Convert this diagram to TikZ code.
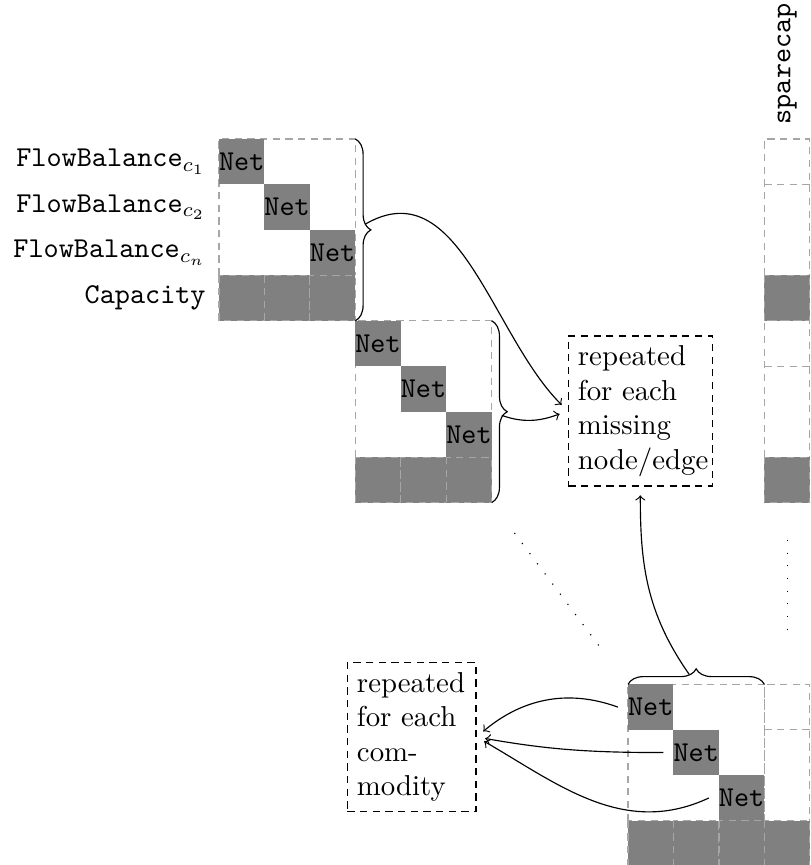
\documentclass[tikz,border=0pt]{standalone}
\usetikzlibrary{decorations.pathreplacing}
\begin{document}
\begin{tikzpicture}[x=15.78pt, y=15.78pt,
  gridline/.style={draw=gray!70, dash pattern=on 2.5pt off 1.9pt},
  netcell/.style={fill=gray},
  capcell/.style={fill=gray, draw=gray!70, dash pattern=on 2.5pt off 1.9pt},
  nettext/.style={font=\ttfamily},
  rowlabel/.style={anchor=east},
  notebox/.style={draw, dash pattern=on 2.5pt off 1.9pt, align=left},
  bracedeco/.style={decorate, decoration={brace, amplitude=5.4pt}},
  bracetip/.style={inner sep=3.33pt},
  link/.style={->, shorten >=3pt},
  gapdots/.style={loosely dotted}
]
\useasboundingbox (-4.818,-15.974) rectangle (13.025,3.058);

% diagonal blocks: Net entries on the diagonal, capacity row below
\foreach \k/\x/\y in {1/0/0, 2/3/4, 3/9/12}{
  \draw[gridline] (\x,-\y-3) -- (\x,-\y) -- (\x+3,-\y) -- (\x+3,-\y-3);
  \foreach \i in {1,2,3}{
    \fill[netcell] (\x+\i-1,-\y-\i+1) rectangle ++(1,-1);
  }
  \foreach \i in {1,2,3}{
    \filldraw[capcell] (\x+\i-1,-\y-3) rectangle ++(1,-1);
    \node[nettext] (n\k\i) at (\x+\i-0.5,-\y-\i+0.5) {Net};
  }
  % spare capacity column
  \draw[gridline] (12,-\y-3) -- (12,-\y) -- (13,-\y) -- (13,-\y-3);
  \draw[gridline] (12,-\y-1) -- (13,-\y-1);
  \filldraw[capcell] (12,-\y-3) rectangle ++(1,-1);
}

% row labels
\node[rowlabel] (lab1) at (-0.07,-0.5) {$\texttt{FlowBalance}_{c_1}$};
\node[rowlabel] (lab2) at (-0.07,-1.5) {$\texttt{FlowBalance}_{c_2}$};
\node[rowlabel] (lab3) at (-0.07,-2.5) {$\texttt{FlowBalance}_{c_n}$};
\node[rowlabel] (lab4) at (-0.07,-3.5) {\texttt{Capacity}};

% column label
\node[rotate=90, anchor=west, font=\ttfamily] (spare) at (12.5,0.1) {sparecap};

% omitted blocks
\draw[gapdots] (6.5,-8.667) -- (8.45,-11.27);
\draw[gapdots] (12.5,-8.82) -- (12.5,-10.95);

% braces
\draw[bracedeco] (3,0) -- (3,-4);
\draw[bracedeco] (6,-4) -- (6,-8);
\draw[bracedeco] (9,-12) -- (12,-12);
\node[bracetip] (t1) at (3,-2) {};
\node[bracetip] (t2) at (6,-6) {};
\node[bracetip] (t3) at (10.5,-12) {};

% notes
\node[notebox, text width=43.3pt] (box1) at (9.270,-5.985)
  {repeated\\for each\\missing\\node/edge};
\node[notebox, text width=38pt] (box2) at (4.240,-13.157)
  {repeated\\for each\\com-\\modity};

% connectors
\draw[link] (t1) to[out=30,in=135] (box1.west);
\draw[link] (t2) to[out=-20,in=200] (box1.west);
\draw[link] (t3) to[out=125,in=-90] (box1.south);
\draw[link] (n31.west) to[out=160,in=40] (box2.east);
\draw[link] (n32.west) to[out=180,in=350] (box2.east);
\draw[link] (n33.west) to[out=205,in=330] (box2.east);
\end{tikzpicture}
\end{document}
